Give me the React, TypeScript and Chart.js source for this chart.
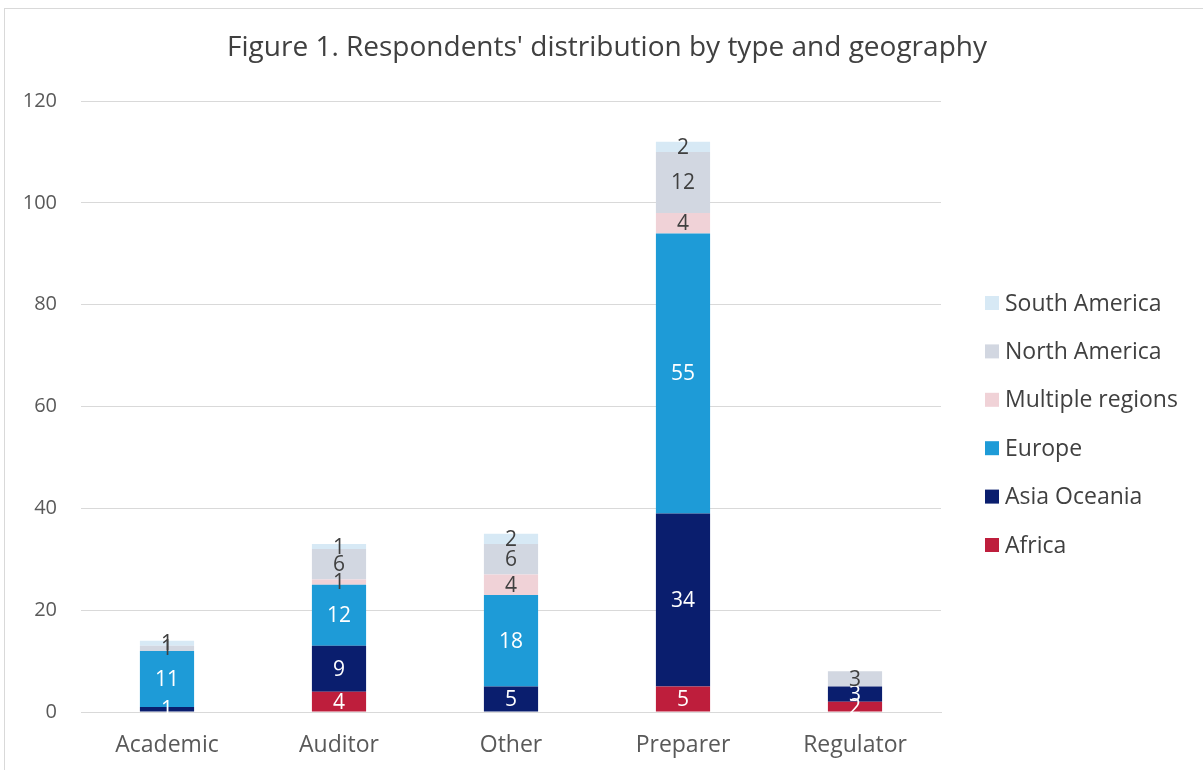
import React, { useEffect, useRef } from "react";
import { Chart, registerables } from "chart.js";

Chart.register(...registerables);

const categories = ["Academic", "Auditor", "Other", "Preparer", "Regulator"];
const africa = [0, 4, 0, 5, 2];
const asiaOceania = [1, 9, 5, 34, 3];
const europe = [11, 12, 18, 55, 0];
const multipleRegions = [0, 1, 4, 4, 0];
const northAmerica = [1, 6, 6, 12, 3];
const southAmerica = [1, 1, 2, 2, 0];
const yTicks = [0, 20, 40, 60, 80, 100, 120];

const seriesNames = ["Africa", "Asia Oceania", "Europe", "Multiple regions", "North America", "South America"];
const seriesColors = ["#be1e3c", "#0a1e6e", "#1e9bd7", "#f0d2d7", "#d2d7e1", "#d7e9f5"];
const labelColors = ["#ffffff", "#ffffff", "#ffffff", "#404040", "#404040", "#404040"];

const FONT = "'Open Sans', sans-serif";

const decorPlugin = {
  id: "decor",
  beforeDraw(chart: any) {
    const ctx = chart.ctx;
    ctx.save();
    ctx.fillStyle = "#ffffff";
    ctx.fillRect(0, 0, chart.width, chart.height);
    ctx.strokeStyle = "#d9d9d9";
    ctx.lineWidth = 1;
    ctx.strokeRect(4.5, 8.5, chart.width - 4, chart.height - 4);
    ctx.restore();
  },
  afterDatasetsDraw(chart: any) {
    const ctx = chart.ctx;
    ctx.save();
    ctx.font = `21px ${FONT}`;
    ctx.textAlign = "center";
    ctx.textBaseline = "middle";
    chart.data.datasets.forEach((ds: any, i: number) => {
      const meta = chart.getDatasetMeta(i);
      meta.data.forEach((bar: any, j: number) => {
        const v = ds.data[j];
        if (!v) return;
        ctx.fillStyle = labelColors[i];
        ctx.fillText(String(v), bar.x, (bar.y + bar.base) / 2 + 1);
      });
    });
    ctx.restore();
  },
  afterDraw(chart: any) {
    const ctx = chart.ctx;
    ctx.save();
    // title
    ctx.fillStyle = "#404040";
    ctx.font = `28px ${FONT}`;
    ctx.textAlign = "center";
    ctx.textBaseline = "middle";
    ctx.fillText("Figure 1. Respondents' distribution by type and geography", 607, 48);
    // legend
    ctx.font = `23px ${FONT}`;
    ctx.textAlign = "left";
    const n = chart.data.datasets.length;
    for (let k = 0; k < n; k++) {
      const idx = n - 1 - k;
      const ds = chart.data.datasets[idx];
      const cy = 303 + k * 48.4;
      ctx.fillStyle = ds.backgroundColor;
      ctx.fillRect(985, cy - 7, 14, 14);
      ctx.fillStyle = "#404040";
      ctx.fillText(ds.label, 1005, cy + 1);
    }
    ctx.restore();
  },
};

export default function App() {
  const ref = useRef<HTMLCanvasElement | null>(null);
  useEffect(() => {
    document.body.style.margin = "0";
    const values = [africa, asiaOceania, europe, multipleRegions, northAmerica, southAmerica];
    const chart = new Chart(ref.current as HTMLCanvasElement, {
      type: "bar",
      data: {
        labels: categories,
        datasets: values.map((d, i) => ({
          label: seriesNames[i],
          data: d,
          backgroundColor: seriesColors[i],
          borderWidth: 0,
          barPercentage: 0.315,
          categoryPercentage: 1,
        })),
      },
      options: {
        animation: false,
        responsive: false,
        events: [],
        layout: { padding: { top: 101, right: 262, bottom: 0, left: 0 } },
        plugins: { legend: { display: false }, title: { display: false }, tooltip: { enabled: false } },
        scales: {
          x: {
            stacked: true,
            grid: { display: false },
            border: { display: true, color: "#d9d9d9", width: 1 },
            ticks: { color: "#595959", font: { family: FONT, size: 23 }, padding: 12 },
            afterFit: (s: any) => { s.height = 58; },
          },
          y: {
            stacked: true,
            min: 0,
            max: 120,
            afterBuildTicks: (s: any) => { s.ticks = yTicks.map((v) => ({ value: v })); },
            grid: { color: "#d9d9d9", drawTicks: false, lineWidth: 1 },
            border: { display: false },
            ticks: { color: "#595959", font: { family: FONT, size: 20 }, padding: 24 },
            afterFit: (s: any) => { s.width = 81; },
          },
        },
      },
      plugins: [decorPlugin],
    });
    return () => chart.destroy();
  }, []);
  return (
    <div style={{ width: 1203, height: 770 }}>
      <canvas ref={ref} width={1203} height={770} style={{ display: "block" }} />
    </div>
  );
}
